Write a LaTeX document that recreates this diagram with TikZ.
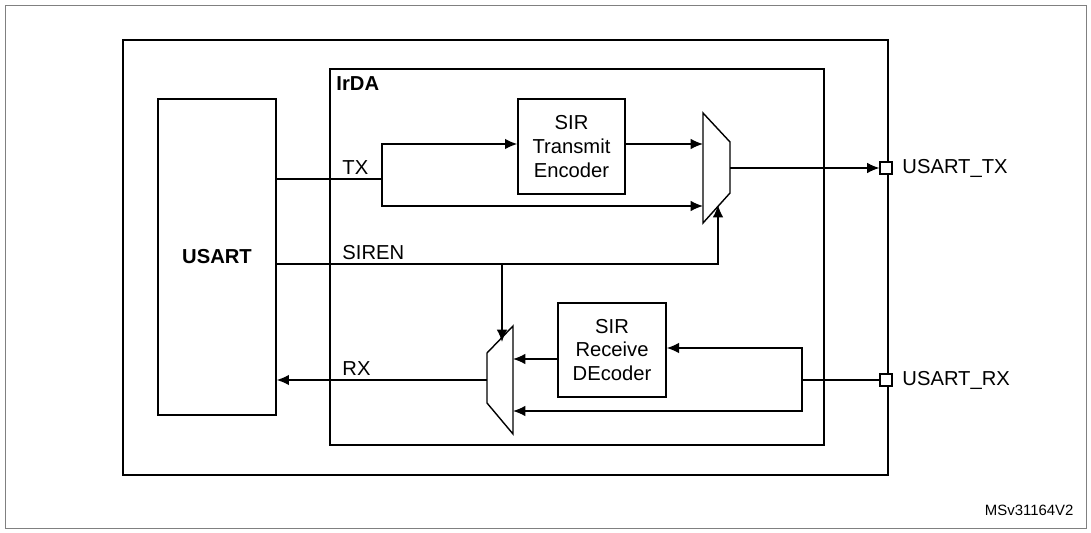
\documentclass[tikz,border=0pt]{standalone}
\usepackage{fontspec}
\setmainfont{Liberation Sans}
\usetikzlibrary{arrows.meta}
\begin{document}
\begin{tikzpicture}[x=0.02cm, y=-0.02cm, >={Latex[length=7pt,width=6pt]}, line width=0.8pt,
  lbl/.style={font=\fontsize{11.5}{13}\selectfont, inner sep=1pt},
  blk/.style={draw, line width=0.8pt, align=center, font=\fontsize{11.5}{13.5}\selectfont},
  pin/.style={draw, fill=white, minimum size=0.24cm, inner sep=0pt, line width=0.6pt}]

% Cadre
\draw[gray, line width=0.5pt] (5,5) rectangle (1086,528);
\useasboundingbox (0,0) rectangle (1091,533);
\draw[line width=1.4pt] (123,40) rectangle (888,475);
\draw (330,69) rectangle (824,445);
\node[lbl, anchor=north west, font=\bfseries\fontsize{11.5}{13}\selectfont] at (334,74) {IrDA};

% Blocchi
\node[blk, minimum width=2.36cm, minimum height=6.32cm, font=\bfseries\fontsize{11.5}{13}\selectfont] (usart) at (217,257) {USART};
\node[blk, minimum width=2.14cm, minimum height=1.9cm] (enc) at (571.5,146.5) {SIR\\Transmit\\Encoder};
\node[blk, minimum width=2.16cm, minimum height=1.88cm] (dec) at (612,350) {SIR\\Receive\\DEcoder};

% Multiplexer
\draw (703,113) -- (730,142) -- (730,193) -- (703,223) -- cycle;
\draw (513,326) -- (487,353) -- (487,403) -- (513,434) -- cycle;

% Pin
\node[pin] (ptx) at (886,168) {};
\node[pin] (prx) at (886,380) {};
\node[lbl, anchor=west] at (900,168) {USART\_TX};
\node[lbl, anchor=west] at (900,380) {USART\_RX};

% Coordinate ausiliarie
\coordinate (tx) at (276,179);
\coordinate (br) at (382,179);
\coordinate (sir) at (276,264);
\coordinate (rx) at (802,380);

% Percorso TX
\draw (tx) -- (br);
\node[lbl, anchor=south west] at (340,177) {TX};
\draw[->] (br) |- (enc.west |- 0,144);
\draw[->] (br) |- (703,206);
\draw[->] (enc.east |- 0,144) -- (703,144);
\draw[->] (730,168) -- (ptx.west);

% SIREN
\node[lbl, anchor=south west] at (340,262) {SIREN};
\draw[->] (sir) -| (718,205);
\draw[->] (502,264) -- (502,342);

% Percorso RX
\draw (prx.west) -- (rx);
\draw[->] (rx) |- (dec.east |- 0,348);
\draw[->] (rx) |- (513,411);
\draw[->] (dec.west |- 0,359) -- (513,359);
\draw[->] (487,380) -- (usart.east |- 0,380);
\node[lbl, anchor=south west] at (340,378) {RX};

\node[anchor=south east, font=\fontsize{8.5}{9}\selectfont] at (1080,522) {MSv31164V2};
\end{tikzpicture}
\end{document}
